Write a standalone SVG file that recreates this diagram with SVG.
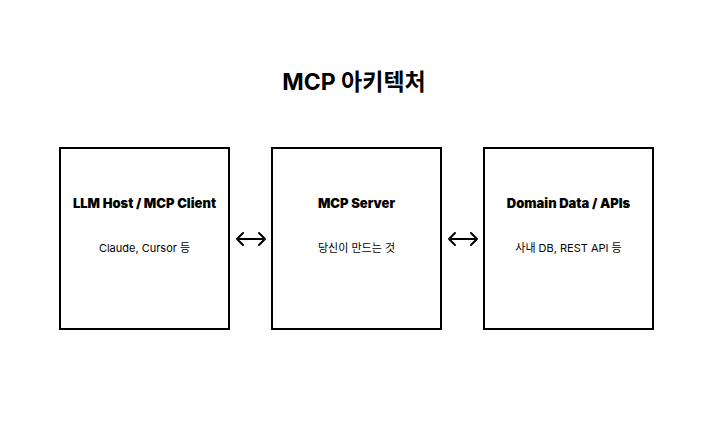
<svg xmlns="http://www.w3.org/2000/svg" width="708" height="445" viewBox="0 0 708 445">
<style>
.box{fill:#fff;stroke:#000;stroke-width:2}
.t{font-family:Inter,"Noto Sans CJK KR",sans-serif;font-weight:900;font-size:13px;text-anchor:middle;fill:#000}
.s{font-family:Inter,"Noto Sans CJK KR",sans-serif;font-size:11px;text-anchor:middle;fill:#000}
.c{fill:none;stroke:#000;stroke-width:2;stroke-linecap:round;stroke-linejoin:round}
</style>
<rect width="708" height="445" fill="#fff"/>
<text x="354" y="90" font-family="Inter,'Noto Sans CJK KR',sans-serif" font-weight="700" font-size="23" text-anchor="middle">MCP 아키텍처</text>
<g id="host"><rect class="box" x="60" y="148" width="169" height="181"/><text class="t" x="144.5" y="208">LLM Host / MCP Client</text><text class="s" x="144.5" y="252">Claude, Cursor 등</text></g>
<g id="server"><rect class="box" x="272" y="148" width="169" height="181"/><text class="t" x="356.5" y="208">MCP Server</text><text class="s" x="356.5" y="252">당신이 만드는 것</text></g>
<g id="data"><rect class="box" x="484" y="148" width="169" height="181"/><text class="t" x="568.5" y="208">Domain Data / APIs</text><text class="s" x="568.5" y="252">사내 DB, REST API 등</text></g>
<g id="connectors">
<path class="c" d="M237 239H265M243 233L237 239L243 245M259 233L265 239L259 245"/>
<path class="c" d="M449 239H477M455 233L449 239L455 245M471 233L477 239L471 245"/>
</g>
</svg>
